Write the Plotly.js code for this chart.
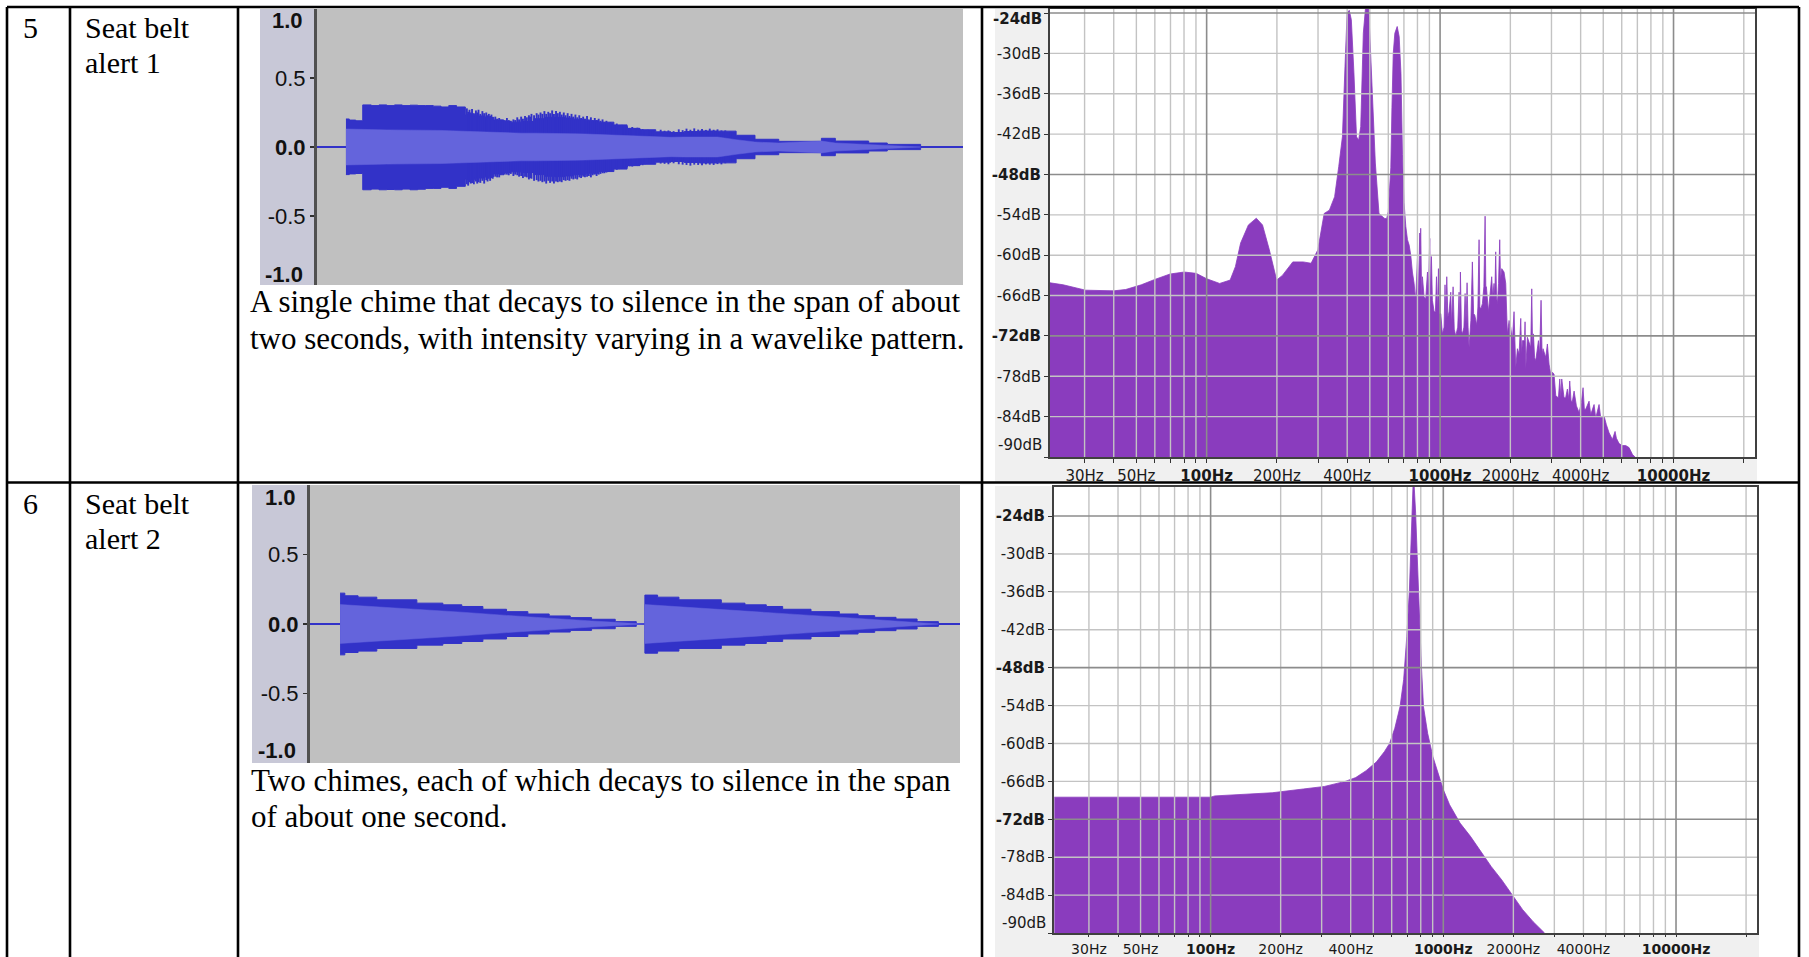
<!DOCTYPE html>
<html>
<head>
<meta charset="utf-8">
<script src="https://cdn.plot.ly/plotly-3.0.1.min.js"></script>
<style>
  html, body { margin: 0; padding: 0; background: #ffffff; }
  #chart { width: 1809px; height: 957px; }
</style>
</head>
<body>
<div id="chart"></div>
<script>
// ---------------- Seat belt alert 1 : waveform (time in s, amplitude) ----------------
const wave1Time = [0.112,0.125,0.150,0.177,0.210,0.240,0.270,0.300,0.330,0.360,0.390,0.420,0.450,0.480,0.510,0.540,0.574,0.610,0.650,0.684,0.720,0.750,0.790,0.839,0.880,0.920,0.960,0.994,1.040,1.090,1.149,1.200,1.250,1.311,1.370,1.421,1.480,1.550,1.622,1.695,1.787,1.952,2.006,2.135,2.207,2.336];
const wave1Max = [0.203,0.195,0.190,0.305,0.300,0.305,0.300,0.305,0.300,0.303,0.300,0.300,0.296,0.290,0.300,0.290,0.235,0.225,0.215,0.195,0.185,0.180,0.185,0.205,0.215,0.215,0.210,0.200,0.190,0.180,0.160,0.135,0.125,0.110,0.105,0.112,0.116,0.115,0.085,0.056,0.041,0.063,0.043,0.029,0.019,0];
const wave1Min = [-0.200,-0.195,-0.192,-0.310,-0.305,-0.310,-0.308,-0.310,-0.305,-0.310,-0.306,-0.300,-0.300,-0.292,-0.300,-0.285,-0.235,-0.225,-0.215,-0.195,-0.185,-0.180,-0.185,-0.200,-0.212,-0.215,-0.210,-0.200,-0.190,-0.178,-0.160,-0.135,-0.125,-0.110,-0.105,-0.112,-0.116,-0.115,-0.085,-0.056,-0.041,-0.063,-0.043,-0.029,-0.019,0];
const wave1RmsHigh = [0.130,0.130,0.128,0.125,0.125,0.125,0.124,0.124,0.123,0.123,0.122,0.122,0.121,0.120,0.118,0.116,0.110,0.108,0.106,0.104,0.102,0.100,0.100,0.100,0.100,0.100,0.098,0.096,0.094,0.090,0.085,0.080,0.076,0.072,0.070,0.072,0.073,0.072,0.053,0.036,0.029,0.043,0.029,0.019,0.012,0];
const wave1RmsLow = [-0.130,-0.130,-0.128,-0.125,-0.125,-0.125,-0.124,-0.124,-0.123,-0.123,-0.122,-0.122,-0.121,-0.120,-0.118,-0.116,-0.110,-0.108,-0.106,-0.104,-0.102,-0.100,-0.100,-0.100,-0.100,-0.100,-0.098,-0.096,-0.094,-0.090,-0.085,-0.080,-0.076,-0.072,-0.070,-0.072,-0.073,-0.072,-0.053,-0.036,-0.029,-0.043,-0.029,-0.019,-0.012,0];
// individual sample peaks poking out of the envelope
const wave1SpikeTime = [0.580,0.585,0.590,0.595,0.600,0.607,0.615,0.620,0.625,0.632,
  0.640,0.647,0.655,0.660,0.665,0.670,0.675,0.680,0.690,0.697,
  0.705,0.712,0.720,0.727,0.735,0.742,0.750,0.760,0.767,0.775,
  0.782,0.790,0.797,0.805,0.812,0.820,0.825,0.830,0.840,0.850,
  0.857,0.865,0.872,0.880,0.887,0.895,0.902,0.910,0.917,0.925,
  0.932,0.940,0.947,0.955,0.962,0.970,0.977,0.985,0.992,1.000,
  1.007,1.015,1.022,1.030,1.037,1.045,1.052,1.060,1.067,1.075,
  1.082,1.090,1.097,1.105,1.112,1.120,1.127,1.135,1.142,1.160,
  1.170,1.180,1.190,1.200,1.210,1.220,1.230,1.240,1.250,1.260,
  1.270,1.280,1.290,1.300,1.330,1.345,1.360,1.380,1.400,1.415,
  1.430,1.445,1.460,1.475,1.490,1.505,1.520,1.535,1.550,1.565,
  1.580,1.600];
const wave1SpikeMax = [0.280,0.255,0.270,0.250,0.275,0.245,0.265,0.250,0.270,0.240,
  0.260,0.245,0.250,0.230,0.240,0.225,0.235,0.215,0.220,0.205,
  0.210,0.200,0.200,0.195,0.210,0.195,0.190,0.200,0.195,0.215,
  0.200,0.220,0.205,0.225,0.215,0.230,0.220,0.240,0.230,0.245,
  0.235,0.250,0.240,0.260,0.240,0.255,0.245,0.265,0.240,0.260,
  0.245,0.255,0.235,0.250,0.230,0.245,0.225,0.240,0.220,0.235,
  0.215,0.230,0.210,0.220,0.205,0.225,0.200,0.215,0.195,0.210,
  0.195,0.205,0.190,0.200,0.180,0.190,0.175,0.180,0.165,0.170,
  0.150,0.160,0.145,0.150,0.138,0.145,0.132,0.140,0.128,0.130,
  0.122,0.125,0.118,0.120,0.125,0.118,0.120,0.115,0.128,0.122,
  0.133,0.125,0.135,0.126,0.130,0.124,0.133,0.125,0.128,0.120,
  0.120,0.110];
const wave1SpikeMin = [-0.270,-0.280,-0.255,-0.265,-0.260,-0.270,-0.250,-0.265,-0.255,-0.260,
  -0.245,-0.265,-0.240,-0.250,-0.230,-0.245,-0.225,-0.230,-0.215,-0.220,
  -0.220,-0.205,-0.205,-0.200,-0.200,-0.205,-0.195,-0.210,-0.200,-0.205,
  -0.215,-0.210,-0.225,-0.215,-0.220,-0.235,-0.225,-0.230,-0.245,-0.240,
  -0.250,-0.245,-0.255,-0.250,-0.265,-0.245,-0.260,-0.250,-0.265,-0.250,
  -0.255,-0.250,-0.255,-0.240,-0.245,-0.240,-0.245,-0.230,-0.235,-0.230,
  -0.235,-0.220,-0.225,-0.215,-0.220,-0.215,-0.210,-0.220,-0.205,-0.200,
  -0.210,-0.200,-0.195,-0.190,-0.190,-0.185,-0.180,-0.175,-0.170,-0.165,
  -0.160,-0.155,-0.150,-0.148,-0.140,-0.142,-0.135,-0.138,-0.130,-0.132,
  -0.125,-0.122,-0.120,-0.118,-0.120,-0.122,-0.125,-0.118,-0.125,-0.128,
  -0.130,-0.135,-0.128,-0.130,-0.133,-0.126,-0.128,-0.130,-0.124,-0.126,
  -0.118,-0.110];

// ---------------- Seat belt alert 1 : spectrum (Hz, dB) ----------------
const alert1FreqHz = [21.3,24.3,30.3,40,45,52.5,60,69.7,80.1,90.2,100,113.7,126.1,132.8,139.8,151,163.2,173.5,185.6,199.5,211.1,233.9,259.4,280.2,299.5,318.7,335.6,353.4,368.1,381.6,391.5,399.7,408.2,416.7,427.5,438.6,447.7,457.1,469,481.3,493.8,506.7,528,547.4,576.3,590,600,608,615,622,630,640,655,668,680,690,696,701,713,725,737,749,761,774,782,787,800,808,818,822,826,834,840,854,868,883,890,903,910,918,927,943,955,965,975,984,993,1007,1023,1040,1050,1060,1068,1080,1093,1111,1120,1137,1150,1167,1190,1206,1215,1222,1235,1246,1265,1280,1292,1305,1318,1331,1355,1375,1392,1408,1436,1452,1469,1480,1494,1518,1540,1549,1559,1570,1579,1611,1648,1664,1680,1703,1716,1731,1745,1760,1780,1801,1815,1837,1879,1911,1942,1975,2007,2040,2074,2090,2109,2144,2180,2216,2235,2253,2300,2312,2328,2366,2421,2445,2470,2490,2511,2540,2569,2638,2670,2707,2735,2761,2835,2882,2930,2979,3028,3078,3130,3213,3256,3290,3320,3396,3450,3510,3560,3592,3640,3688,3750,3837,3939,4030,4097,4150,4206,4347,4419,4567,4642,4797,4877,5040,5157,5295,5472,5617,5692,5843,6038,6240,6449,6664,6842,6887];
const alert1LevelDb = [-64.1,-64.4,-65.2,-65.3,-65.1,-64.4,-63.6,-62.8,-62.5,-62.7,-63.5,-64.2,-63.7,-61.7,-58.2,-55.5,-54.5,-55.5,-59.2,-63.7,-63.0,-61.0,-61.0,-61.2,-59.2,-53.8,-53.3,-51.3,-46.8,-42.4,-31.9,-24.0,-23.6,-25.0,-32.9,-42.4,-42.9,-40.9,-27.0,-22.5,-22.8,-31.9,-46.3,-53.8,-54.5,-54.6,-53.5,-50.0,-47.0,-38,-30,-27.0,-26.0,-27.5,-33,-45,-52,-52.2,-55.7,-57.7,-58.5,-60.0,-62.5,-64.2,-66.0,-66.0,-60.5,-66.0,-56.7,-60,-56.0,-66.2,-63.2,-66.2,-66.5,-62.5,-66.2,-57.5,-66.2,-60.2,-66.7,-68.4,-68.4,-63.2,-68.2,-62.0,-68.7,-68.7,-71.7,-70.7,-64.4,-69.7,-63.2,-69.2,-68.4,-65.5,-70.2,-64.7,-71,-72.0,-70.7,-65.5,-70.7,-62.5,-71.2,-71.7,-70.7,-65.7,-70.2,-64.1,-70.7,-73.7,-69.7,-61.0,-68.7,-68.9,-70.4,-67.7,-57.7,-67.7,-68.0,-67.2,-64.7,-57.6,-54.2,-64.7,-64.7,-68.4,-64.7,-63.2,-66.2,-64.2,-66.2,-59.5,-66.2,-67.2,-64.2,-57.7,-63.7,-62.0,-62.5,-64.2,-71.7,-69.7,-70.7,-72.7,-68.4,-74.7,-76.7,-73.9,-74.7,-69.4,-74.7,-72.7,-72.7,-69.9,-76.9,-72.2,-73.4,-73.7,-65.0,-73.7,-71.7,-75.2,-75.7,-72.7,-74.7,-66.7,-74.7,-73.9,-75.2,-73.2,-76.2,-77.7,-77.4,-77.7,-80.9,-81.2,-78.4,-81.2,-78.4,-81.2,-81.2,-79.9,-81.4,-78.7,-81.7,-81.7,-80.2,-82.4,-83.4,-81.9,-79.7,-82.9,-82.9,-81.7,-83.7,-82.2,-84.2,-82.2,-84.2,-83.9,-85.2,-86.4,-87.4,-86.2,-87.2,-88.0,-88.3,-88.3,-88.6,-89.6,-90,-91];

// ---------------- Seat belt alert 2 : waveform ----------------
const wave2Time = [0.1156,0.134,0.185,0.257,0.411,0.511,0.584,0.665,0.756,0.838,0.920,1.001,1.083,1.174,1.255,1.288,1.337,1.419,1.582,1.673,1.755,1.818,1.927,2.036,2.108,2.172,2.254,2.335,2.417];
const wave2Max = [0.222,0.203,0.193,0.174,0.150,0.138,0.126,0.106,0.089,0.072,0.058,0.046,0.034,0.017,0,0.208,0.193,0.174,0.150,0.138,0.126,0.106,0.089,0.072,0.060,0.048,0.036,0.017,0];
const wave2Min = [-0.222,-0.205,-0.195,-0.176,-0.152,-0.140,-0.126,-0.108,-0.090,-0.072,-0.058,-0.046,-0.034,-0.017,0,-0.210,-0.195,-0.176,-0.152,-0.140,-0.126,-0.108,-0.090,-0.072,-0.060,-0.048,-0.036,-0.017,0];
const wave2RmsTime = [0.1156,0.257,0.411,0.584,0.756,0.920,1.083,1.174,1.255,1.287,1.288,1.419,1.582,1.755,1.927,2.108,2.254,2.335,2.417];
const wave2RmsHigh = [0.140,0.125,0.105,0.085,0.062,0.040,0.022,0.012,0,0,0.140,0.125,0.105,0.085,0.062,0.040,0.022,0.012,0];
const wave2RmsLow = [-0.140,-0.125,-0.105,-0.085,-0.062,-0.040,-0.022,-0.012,0,0,-0.140,-0.125,-0.105,-0.085,-0.062,-0.040,-0.022,-0.012,0];

// ---------------- Seat belt alert 2 : spectrum ----------------
const alert2FreqHz = [21.3,53.3,100,104.2,134.9,183.9,250.6,308.3,378.8,420.2,465.9,516.5,557.9,587.5,618.6,651.5,675.4,696.6,715.0,729.9,741.3,748.9,760.7,772.6,788.8,805.2,822.0,856.6,902.2,949.8,1000,1064,1180,1308,1450,1608,1783,1977,2192,2431,2723];
const alert2LevelDb = [-68.5,-68.5,-68.5,-68.3,-68.1,-67.8,-67.2,-66.8,-66.0,-65.4,-64.3,-62.9,-61.3,-60.0,-57.6,-54.2,-49.9,-43.1,-35.7,-26.2,-19.0,-19.0,-23.6,-30.4,-41.0,-47.8,-54.2,-58.4,-62.1,-64.7,-67.3,-69.7,-72.6,-74.7,-77.1,-79.5,-81.6,-83.9,-86.3,-88.2,-90.0];

// ---------------- axis ticks ----------------
const gridHzMinor = [20,30,40,50,60,70,80,90,200,300,400,500,600,700,800,900,2000,3000,4000,5000,6000,7000,8000,9000,20000];
const gridHzMajor = [100,1000,10000];
const labelHz = [30,50,100,200,400,1000,2000,4000,10000];
const gridDbMinor = [-30,-36,-42,-54,-60,-66,-78,-84];
const gridDbMajor = [-24,-48,-72];
const tickDb = [-24,-30,-36,-42,-48,-54,-60,-66,-72,-78,-84,-90];
const ampTicks = [-0.5, 0, 0.5];
const ampLabels = ['-0.5', '<b>0.0</b>', '0.5'];

// ---------------- geometry helpers (pixel -> paper) ----------------
const W = 1809, H = 957;
const px = v => v / W;
const py = v => 1 - v / H;

const DARK = '#3232c8', LIGHT = '#6464dc';
const PURPLE = '#8a3cbe';
const RULER_FONT = 'Liberation Sans, Arial, sans-serif';
const SPEC_FONT = 'DejaVu Sans, Verdana, sans-serif';
const SERIF = 'Liberation Serif, Times New Roman, serif';

function waveTraces(xa, ya, t, hi, lo, rt, rhi, rlo, st, smax, smin) {
  const tr = [];
  tr.push({x: [0, 2.5], y: [0, 0], xaxis: xa, yaxis: ya, mode: 'lines',
           line: {color: DARK, width: 2}, hoverinfo: 'skip'});
  tr.push({x: t, y: hi, xaxis: xa, yaxis: ya, mode: 'lines',
           line: {color: DARK, width: 1, shape: 'hv'}, hoverinfo: 'skip'});
  tr.push({x: t, y: lo, xaxis: xa, yaxis: ya, mode: 'lines', fill: 'tonexty', fillcolor: DARK,
           line: {color: DARK, width: 1, shape: 'hv'}, hoverinfo: 'skip'});
  if (st) {
    const sx = [], sy = [];
    st.forEach((v, i) => { sx.push(v, v, null); sy.push(smin[i], smax[i], null); });
    tr.push({x: sx, y: sy, xaxis: xa, yaxis: ya, mode: 'lines',
             line: {color: DARK, width: 1.9}, hoverinfo: 'skip'});
  }
  tr.push({x: rt, y: rhi, xaxis: xa, yaxis: ya, mode: 'lines',
           line: {color: LIGHT, width: 0.5}, hoverinfo: 'skip'});
  tr.push({x: rt, y: rlo, xaxis: xa, yaxis: ya, mode: 'lines', fill: 'tonexty', fillcolor: LIGHT,
           line: {color: LIGHT, width: 0.5}, hoverinfo: 'skip'});
  return tr;
}

function spectrumTraces(xa, ya, f, db) {
  const tr = [];
  tr.push({x: f.concat([f[f.length - 1], f[0]]), y: db.concat([-100, -100]),
           xaxis: xa, yaxis: ya, mode: 'lines', fill: 'toself', fillcolor: PURPLE,
           line: {color: PURPLE, width: 0.8}, hoverinfo: 'skip'});
  const vlines = (list) => {
    const x = [], y = [];
    list.forEach(v => { x.push(v, v, null); y.push(-100, 0, null); });
    return {x, y};
  };
  const hlines = (list) => {
    const x = [], y = [];
    list.forEach(v => { x.push(10, 30000, null); y.push(v, v, null); });
    return {x, y};
  };
  const vm = vlines(gridHzMinor), vM = vlines(gridHzMajor);
  const hm = hlines(gridDbMinor), hM = hlines(gridDbMajor);
  tr.push(Object.assign(vm, {xaxis: xa, yaxis: ya, mode: 'lines', line: {color: '#c3c3c3', width: 1.4}, hoverinfo: 'skip'}));
  tr.push(Object.assign(hm, {xaxis: xa, yaxis: ya, mode: 'lines', line: {color: '#c3c3c3', width: 1.4}, hoverinfo: 'skip'}));
  tr.push(Object.assign(vM, {xaxis: xa, yaxis: ya, mode: 'lines', line: {color: '#8c8c8c', width: 1.6}, hoverinfo: 'skip'}));
  tr.push(Object.assign(hM, {xaxis: xa, yaxis: ya, mode: 'lines', line: {color: '#8c8c8c', width: 1.6}, hoverinfo: 'skip'}));
  return tr;
}

const data = [].concat(
  waveTraces('x', 'y', wave1Time, wave1Max, wave1Min, wave1Time, wave1RmsHigh, wave1RmsLow,
             wave1SpikeTime, wave1SpikeMax, wave1SpikeMin),
  spectrumTraces('x2', 'y2', alert1FreqHz, alert1LevelDb),
  waveTraces('x3', 'y3', wave2Time, wave2Max, wave2Min, wave2RmsTime, wave2RmsHigh, wave2RmsLow),
  spectrumTraces('x4', 'y4', alert2FreqHz, alert2LevelDb)
);

// ---------------- axes ----------------
const allHz = gridHzMinor.concat(gridHzMajor).sort((a, b) => a - b);
const hzText = allHz.map(v => {
  if (labelHz.indexOf(v) < 0) return '';
  const s = v + 'Hz';
  return gridHzMajor.indexOf(v) >= 0 ? '<b>' + s + '</b>' : s;
});
function dbText(skip) {
  return tickDb.map(v => {
    if (skip.indexOf(v) >= 0) return '';
    const s = v + 'dB';
    return gridDbMajor.indexOf(v) >= 0 ? '<b>' + s + '</b>' : s;
  });
}

const waveX = {range: [0, 2.5], visible: false, fixedrange: true};
const waveY = {range: [-1, 1], tickmode: 'array', tickvals: ampTicks, ticktext: ampLabels,
  ticks: 'outside', ticklen: 4, tickwidth: 1.5, tickcolor: '#303030',
  showline: true, linecolor: '#505050', linewidth: 3, showgrid: false, zeroline: false,
  tickfont: {family: RULER_FONT, size: 22, color: '#111111'}, fixedrange: true};
const specX = {type: 'log', tickmode: 'array', tickvals: allHz, ticktext: hzText,
  ticks: 'outside', ticklen: 4, tickwidth: 1, tickcolor: '#333333',
  showline: true, mirror: true, linecolor: '#404040', linewidth: 2, showgrid: false, zeroline: false,
  tickfont: {family: SPEC_FONT, size: 15, color: '#1a1a1a'}, fixedrange: true};
const specY = {tickmode: 'array', tickvals: tickDb,
  ticks: 'outside', ticklen: 4, tickwidth: 1, tickcolor: '#333333',
  showline: true, mirror: true, linecolor: '#404040', linewidth: 2, showgrid: false, zeroline: false,
  tickfont: {family: SPEC_FONT, size: 15, color: '#1a1a1a'}, fixedrange: true};

// ---------------- panels and table rules ----------------
function rect(x0, y0, x1, y1, color, layer) {
  return {type: 'rect', xref: 'paper', yref: 'paper', x0: px(x0), x1: px(x1), y0: py(y1), y1: py(y0),
          fillcolor: color, line: {width: 0}, layer: layer || 'below'};
}
function rule(x0, y0, x1, y1) {
  return {type: 'line', xref: 'paper', yref: 'paper', x0: px(x0), x1: px(x1), y0: py(y0), y1: py(y1),
          line: {color: '#000000', width: 2.6}, layer: 'above'};
}
const shapes = [
  rect(995, 9, 1757, 482, '#f0f0f0'),
  rect(1050, 9, 1755, 457, '#ffffff'),
  rect(995, 486, 1759, 957, '#f0f0f0'),
  rect(1054, 487, 1757, 933, '#ffffff'),
  rect(260, 9, 317, 285, '#c8c8d7'),
  rect(317, 9, 963, 285, '#c0c0c0'),
  rect(252, 485, 310, 763, '#c8c8d7'),
  rect(310, 485, 960, 763, '#c0c0c0'),
  rule(7, 7, 1799, 7),
  rule(7, 482.5, 1799, 482.5),
  rule(7, 7, 7, 957),
  rule(70, 7, 70, 957),
  rule(238, 7, 238, 957),
  rule(982, 7, 982, 957),
  rule(1799, 7, 1799, 957)
];

// ---------------- text ----------------
function label(text, x, yc, size, family) {
  return {xref: 'paper', yref: 'paper', x: px(x), y: py(yc), xanchor: 'left', yanchor: 'middle',
          text: text, showarrow: false, font: {family: family || SERIF, size: size || 30, color: '#000000'}};
}
function rulerEnd(text, ya, yv, shift, xRight) {
  return {xref: 'paper', yref: ya, x: px(xRight), y: yv, xanchor: 'right', yanchor: 'middle', yshift: shift,
          text: text, showarrow: false, font: {family: RULER_FONT, size: 22, color: '#111111'}};
}
function dbEnd(text, xa, ya, yv, shift) {
  return {xref: xa + ' domain', yref: ya, x: 0, y: yv, xanchor: 'right', yanchor: 'middle', xshift: -6, yshift: shift,
          text: text, showarrow: false, font: {family: SPEC_FONT, size: 15, color: '#1a1a1a'}};
}
const annotations = [
  label('5', 21, 27),
  label('Seat belt', 83, 27),
  label('alert 1', 83, 62),
  label('A single chime that decays to silence in the span of about', 248, 301, 31),
  label('two seconds, with intensity varying in a wavelike pattern.', 248, 338, 31),
  label('6', 21, 503),
  label('Seat belt', 83, 503),
  label('alert 2', 83, 538),
  label('Two chimes, each of which decays to silence in the span', 249, 780, 31),
  label('of about one second.', 249, 816, 31),
  rulerEnd('<b>1.0</b>', 'y', 1, -11, 305),
  rulerEnd('<b>-1.0</b>', 'y', -1, 11, 305),
  rulerEnd('<b>1.0</b>', 'y3', 1, -12, 298),
  rulerEnd('<b>-1.0</b>', 'y3', -1, 13, 298),
  dbEnd('<b>-24dB</b>', 'x2', 'y2', -24, -6),
  dbEnd('-90dB', 'x2', 'y2', -90, 12),
  dbEnd('-90dB', 'x4', 'y4', -90, 10)
];

const layout = {
  width: W, height: H, margin: {l: 0, r: 0, t: 0, b: 0, pad: 0},
  paper_bgcolor: '#ffffff', plot_bgcolor: 'rgba(0,0,0,0)', showlegend: false, hovermode: false,
  xaxis:  Object.assign({}, waveX, {domain: [px(317), px(963)], anchor: 'y'}),
  yaxis:  Object.assign({}, waveY, {domain: [py(285), py(9)], anchor: 'x'}),
  xaxis2: Object.assign({}, specX, {domain: [px(1050), px(1755)], range: [1.329, 4.349], anchor: 'y2'}),
  yaxis2: Object.assign({}, specY, {domain: [py(457), py(9)], range: [-90, -23.4], ticktext: dbText([-24, -90]), anchor: 'x2'}),
  xaxis3: Object.assign({}, waveX, {domain: [px(310), px(960)], anchor: 'y3'}),
  yaxis3: Object.assign({}, waveY, {domain: [py(763), py(485)], anchor: 'x3'}),
  xaxis4: Object.assign({}, specX, {domain: [px(1054), px(1757)], range: [1.327, 4.348], anchor: 'y4',
                                    ticklen: 2, tickfont: {family: SPEC_FONT, size: 14, color: '#1a1a1a'}}),
  yaxis4: Object.assign({}, specY, {domain: [py(933), py(487)], range: [-90, -19.4], ticktext: dbText([-90]), anchor: 'x4'}),
  shapes: shapes,
  annotations: annotations
};

Plotly.newPlot('chart', data, layout, {staticPlot: true, displayModeBar: false});
</script>
</body>
</html>
